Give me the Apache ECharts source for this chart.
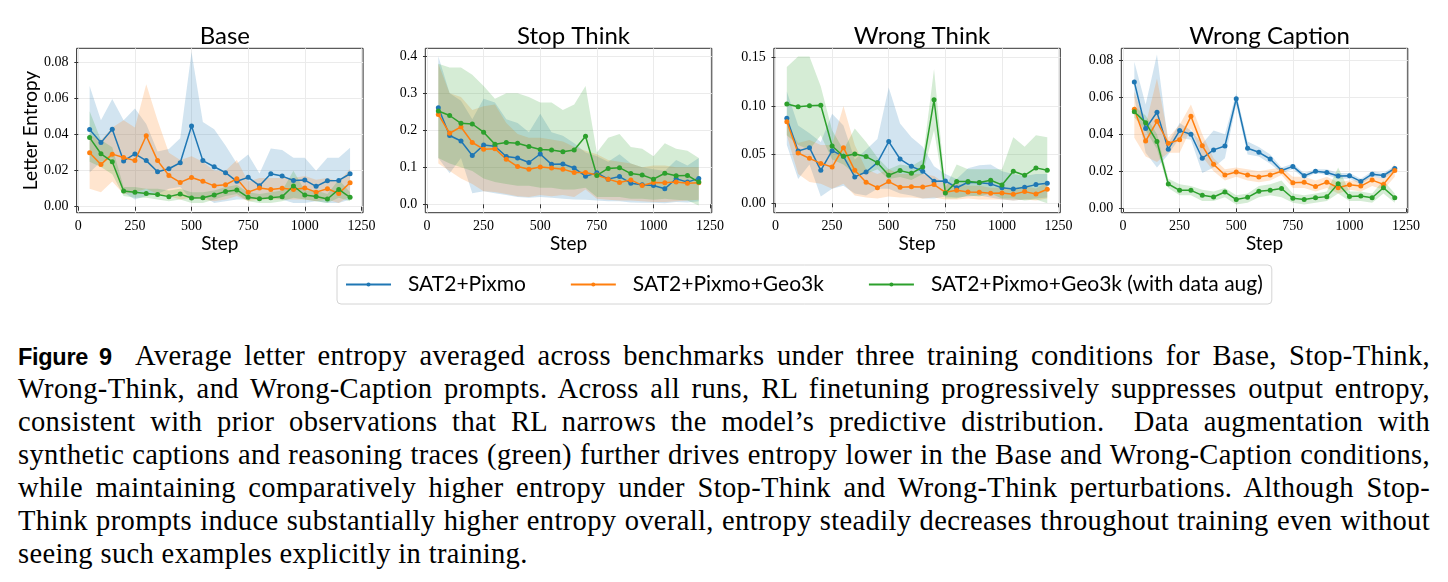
<!DOCTYPE html>
<html><head><meta charset="utf-8">
<script src="https://cdn.jsdelivr.net/npm/echarts@6/dist/echarts.min.js"></script>
<style>
html,body{margin:0;padding:0;background:#fff;width:1448px;height:582px;overflow:hidden}
#chart{position:absolute;left:0;top:0;width:1448px;height:330px}
#cap{position:absolute;left:18px;top:339px;width:1412px;font-family:"Liberation Serif",serif;font-size:28.5px;letter-spacing:0.36px;color:#000}
#cap div{height:33px;line-height:33px;text-align:justify;text-align-last:justify;white-space:nowrap}
#cap div.last{text-align-last:left}
#cap b{font-family:"Liberation Sans",sans-serif;font-weight:bold;font-size:23.5px;letter-spacing:-0.3px}
</style></head>
<body>
<div id="chart"></div>
<div id="cap">
<div><b>Figure 9</b>&nbsp; Average letter entropy averaged across benchmarks under three training conditions for Base, Stop-Think,</div>
<div>Wrong-Think, and Wrong-Caption prompts. Across all runs, RL finetuning progressively suppresses output entropy,</div>
<div>consistent with prior observations that RL narrows the model’s predictive distribution. &nbsp;Data augmentation with</div>
<div>synthetic captions and reasoning traces (green) further drives entropy lower in the Base and Wrong-Caption conditions,</div>
<div>while maintaining comparatively higher entropy under Stop-Think and Wrong-Think perturbations. Although Stop-</div>
<div>Think prompts induce substantially higher entropy overall, entropy steadily decreases throughout training even without</div>
<div class="last">seeing such examples explicitly in training.</div>
</div>
<script>
// ---------------- data ----------------
const steps = [50,100,150,200,250,300,350,400,450,500,550,600,650,700,750,800,850,900,950,1000,1050,1100,1150,1200];
const panelTitles = ['Base','Stop Think','Wrong Think','Wrong Caption'];
const seriesNames = ['SAT2+Pixmo','SAT2+Pixmo+Geo3k','SAT2+Pixmo+Geo3k (with data aug)'];
const xTickValues = [0,250,500,750,1000,1250];
const yTicksBase = [0,0.02,0.04,0.06,0.08];
const yTicksStop = [0,0.1,0.2,0.3,0.4];
const yTicksWrongThink = [0,0.05,0.10,0.15];
const yTicksWrongCaption = [0,0.02,0.04,0.06,0.08];

// Base
const baseBlue   = [0.0429,0.0356,0.0430,0.0254,0.0293,0.0256,0.0194,0.0211,0.0244,0.0448,0.0256,0.0222,0.0189,0.0141,0.0163,0.0117,0.0183,0.0170,0.0146,0.0148,0.0113,0.0144,0.0146,0.0183];
const baseBlueLo = [0.019,0.025,0.027,0.008,0.004,0.006,0.007,0.010,0.011,0.004,0.006,0.002,0.003,0.004,0.004,0.005,0.005,0.004,0.002,0.002,0.003,0.002,0.002,0.004];
const baseBlueHi = [0.067,0.048,0.0598,0.048,0.0546,0.046,0.0306,0.032,0.038,0.086,0.047,0.043,0.034,0.024,0.029,0.0185,0.0324,0.0315,0.0272,0.0272,0.020,0.0272,0.0272,0.0328];
const baseOrange   = [0.0300,0.0235,0.0292,0.0273,0.0256,0.0394,0.0256,0.0173,0.0135,0.0162,0.0141,0.0116,0.0122,0.0155,0.0081,0.0104,0.0096,0.0102,0.0096,0.0104,0.0081,0.0100,0.0074,0.0133];
const baseOrangeLo = [0.010,0.008,0.014,0.007,0.008,0.010,0.007,0.006,0.004,0.005,0.004,0.003,0.004,0.006,0.003,0.004,0.004,0.004,0.004,0.004,0.003,0.004,0.002,0.006];
const baseOrangeHi = [0.040,0.037,0.044,0.048,0.044,0.068,0.048,0.030,0.026,0.028,0.025,0.020,0.020,0.026,0.014,0.016,0.016,0.016,0.016,0.017,0.015,0.016,0.014,0.021];
const baseGreen   = [0.0384,0.0294,0.0250,0.0087,0.0080,0.0073,0.0068,0.0056,0.0070,0.0048,0.0050,0.0065,0.0085,0.0093,0.0052,0.0044,0.0050,0.0056,0.0115,0.0065,0.0057,0.0043,0.0096,0.0052];
const baseGreenLo = [0.025,0.022,0.018,0.006,0.005,0.005,0.004,0.003,0.004,0.002,0.002,0.004,0.006,0.007,0.003,0.002,0.002,0.003,0.005,0.004,0.003,0.002,0.005,0.003];
const baseGreenHi = [0.053,0.037,0.033,0.011,0.011,0.010,0.010,0.009,0.010,0.008,0.008,0.009,0.011,0.012,0.008,0.007,0.008,0.009,0.020,0.009,0.009,0.007,0.015,0.008];

// Stop Think
const stopBlue   = [0.261,0.186,0.171,0.132,0.160,0.157,0.129,0.125,0.113,0.136,0.108,0.109,0.098,0.076,0.085,0.068,0.075,0.057,0.053,0.051,0.042,0.069,0.060,0.070];
const stopBlueLo = [0.125,0.084,0.125,0.030,0.035,0.030,0.025,0.020,0.018,0.020,0.018,0.015,0.013,0.012,0.010,0.008,0.008,0.005,0.004,0.004,0.003,0.006,0.005,0.008];
const stopBlueHi = [0.400,0.300,0.280,0.230,0.285,0.275,0.230,0.220,0.195,0.245,0.195,0.185,0.165,0.140,0.130,0.115,0.135,0.110,0.100,0.095,0.090,0.120,0.105,0.125];
const stopOrange   = [0.243,0.192,0.209,0.167,0.149,0.150,0.122,0.102,0.095,0.101,0.098,0.095,0.086,0.086,0.079,0.068,0.059,0.066,0.051,0.059,0.058,0.060,0.057,0.058];
const stopOrangeLo = [0.110,0.090,0.070,0.055,0.035,0.033,0.028,0.022,0.020,0.025,0.022,0.025,0.020,0.040,0.015,0.012,0.010,0.010,0.008,0.006,0.006,0.008,0.010,0.012];
const stopOrangeHi = [0.380,0.300,0.290,0.255,0.265,0.270,0.220,0.190,0.180,0.180,0.175,0.170,0.155,0.145,0.135,0.120,0.115,0.110,0.100,0.105,0.105,0.100,0.100,0.100];
const stopGreen   = [0.252,0.240,0.219,0.217,0.195,0.162,0.167,0.165,0.156,0.148,0.147,0.142,0.147,0.184,0.078,0.097,0.099,0.083,0.079,0.068,0.084,0.077,0.078,0.060];
const stopGreenLo = [0.125,0.110,0.100,0.090,0.070,0.060,0.055,0.050,0.050,0.045,0.045,0.040,0.040,0.045,0.020,0.020,0.020,0.015,0.015,0.012,0.015,0.012,0.010,-0.003];
const stopGreenHi = [0.380,0.370,0.370,0.350,0.320,0.285,0.300,0.300,0.290,0.275,0.275,0.255,0.270,0.320,0.140,0.180,0.190,0.155,0.150,0.130,0.165,0.150,0.145,0.125];

// Wrong Think
const wtBlue   = [0.0873,0.0538,0.0572,0.0339,0.0541,0.0483,0.0271,0.0322,0.0418,0.0634,0.0455,0.0380,0.0329,0.0226,0.0230,0.0160,0.0216,0.0210,0.0200,0.0160,0.0148,0.0165,0.0192,0.0206];
const wtBlueLo = [0.060,0.025,0.040,0.007,0.015,0.018,0.010,0.008,0.015,0.015,0.010,0.008,0.005,0.005,0.007,0.006,0.007,0.008,0.006,0.004,0.003,0.004,0.005,0.006];
const wtBlueHi = [0.115,0.080,0.072,0.063,0.092,0.080,0.045,0.055,0.066,0.119,0.082,0.068,0.058,0.038,0.030,0.025,0.036,0.039,0.040,0.033,0.030,0.028,0.030,0.030];
const wtOrange   = [0.0839,0.0517,0.0462,0.0410,0.0373,0.0572,0.0339,0.0216,0.0161,0.0223,0.0164,0.0171,0.0168,0.0192,0.0113,0.0134,0.0117,0.0113,0.0103,0.0106,0.0093,0.0120,0.0096,0.0144];
const wtOrangeLo = [0.070,0.030,0.022,0.020,0.015,0.020,0.008,0.006,0.005,0.007,0.006,0.006,0.005,0.006,0.004,0.004,0.005,0.004,0.004,0.004,0.003,0.004,0.003,0.005];
const wtOrangeHi = [0.080,0.062,0.065,0.060,0.060,0.100,0.060,0.035,0.030,0.035,0.030,0.030,0.030,0.028,0.020,0.020,0.018,0.018,0.016,0.016,0.015,0.018,0.015,0.022];
const wtGreen   = [0.1020,0.0993,0.1003,0.1007,0.0589,0.0483,0.0507,0.0480,0.0418,0.0288,0.0336,0.0308,0.0373,0.1064,0.0106,0.0223,0.0223,0.0213,0.0237,0.0189,0.0330,0.0288,0.0364,0.0340];
const wtGreenLo = [0.070,0.060,0.055,0.070,0.045,0.040,0.030,0.030,0.035,0.025,0.027,0.024,0.030,0.075,0.005,0.005,0.008,0.007,0.010,0.005,0.005,0.003,0.004,0.000];
const wtGreenHi = [0.140,0.151,0.151,0.120,0.075,0.055,0.077,0.063,0.047,0.035,0.040,0.038,0.045,0.138,0.016,0.040,0.035,0.035,0.035,0.035,0.068,0.058,0.070,0.068];

// Wrong Caption
const wcBlue   = [0.0681,0.0430,0.0518,0.0318,0.0419,0.0399,0.0270,0.0315,0.0336,0.0591,0.0324,0.0302,0.0266,0.0204,0.0226,0.0175,0.0200,0.0193,0.0174,0.0175,0.0145,0.0184,0.0177,0.0215];
const wcBlueLo = [0.060,0.030,0.022,0.029,0.038,0.037,0.019,0.022,0.027,0.056,0.029,0.028,0.024,0.019,0.021,0.016,0.019,0.018,0.016,0.016,0.013,0.017,0.016,0.020];
const wcBlueHi = [0.079,0.056,0.083,0.035,0.046,0.042,0.035,0.042,0.040,0.062,0.036,0.033,0.029,0.022,0.024,0.019,0.021,0.021,0.019,0.019,0.016,0.020,0.019,0.023];
const wcOrange   = [0.0534,0.0363,0.0469,0.0351,0.0370,0.0496,0.0338,0.0237,0.0180,0.0196,0.0180,0.0169,0.0180,0.0200,0.0138,0.0140,0.0118,0.0141,0.0111,0.0127,0.0120,0.0152,0.0129,0.0204];
const wcOrangeLo = [0.038,0.028,0.025,0.030,0.030,0.043,0.028,0.020,0.015,0.017,0.015,0.014,0.015,0.018,0.011,0.011,0.009,0.011,0.008,0.010,0.009,0.012,0.010,0.017];
const wcOrangeHi = [0.063,0.045,0.070,0.038,0.045,0.056,0.040,0.027,0.021,0.022,0.021,0.020,0.021,0.022,0.017,0.017,0.015,0.017,0.014,0.015,0.015,0.017,0.016,0.024];
const wcGreen   = [0.0521,0.0462,0.0360,0.0131,0.0097,0.0097,0.0070,0.0061,0.0088,0.0047,0.0059,0.0092,0.0097,0.0107,0.0054,0.0047,0.0057,0.0063,0.0132,0.0064,0.0066,0.0057,0.0111,0.0057];
const wcGreenLo = [0.049,0.042,0.032,0.011,0.007,0.007,0.004,0.004,0.006,0.002,0.003,0.006,0.007,0.006,0.003,0.002,0.003,0.004,0.008,0.004,0.004,0.003,0.008,0.003];
const wcGreenHi = [0.055,0.050,0.040,0.016,0.013,0.012,0.010,0.009,0.011,0.007,0.008,0.012,0.013,0.015,0.008,0.007,0.008,0.009,0.022,0.009,0.009,0.008,0.015,0.008];

// ---------------- layout / style ----------------
const colors = ['#1f77b4','#ff7f0e','#2ca02c'];
const gridLefts = [76.6, 425.3, 773.8, 1121.3];
const gridWidth = 286.5;
const gridTop = 48.3, gridHeight = 164.4;
const xRange = [-7.5, 1257.5];
const yRanges = [[-0.00333,0.0880],[-0.0227,0.4216],[-0.00966,0.1593],[-0.00237,0.0863]];
const yDecimals = [2,1,2,2];

const panels = [
  {ticks: yTicksBase, lines:[[baseBlue,baseBlueLo,baseBlueHi],[baseOrange,baseOrangeLo,baseOrangeHi],[baseGreen,baseGreenLo,baseGreenHi]]},
  {ticks: yTicksStop, lines:[[stopBlue,stopBlueLo,stopBlueHi],[stopOrange,stopOrangeLo,stopOrangeHi],[stopGreen,stopGreenLo,stopGreenHi]]},
  {ticks: yTicksWrongThink, lines:[[wtBlue,wtBlueLo,wtBlueHi],[wtOrange,wtOrangeLo,wtOrangeHi],[wtGreen,wtGreenLo,wtGreenHi]]},
  {ticks: yTicksWrongCaption, lines:[[wcBlue,wcBlueLo,wcBlueHi],[wcOrange,wcOrangeLo,wcOrangeHi],[wcGreen,wcGreenLo,wcGreenHi]]}
];

const sansFont = 'Lato';
const serifFont = '"Liberation Serif", serif';

const grids = [], xAxes = [], yAxes = [], titles = [], series = [];
panels.forEach((p, i) => {
  grids.push({left: gridLefts[i], top: gridTop, width: gridWidth, height: gridHeight,
    show: true, borderColor: '#333', borderWidth: 1, backgroundColor: 'transparent', containLabel: false});
  titles.push({text: panelTitles[i], left: gridLefts[i] + gridWidth/2, top: 19, textAlign: 'center',
    textStyle: {fontFamily: sansFont, fontSize: 24, fontWeight: 'normal', color: '#000'}});
  xAxes.push({type: 'value', gridIndex: i, min: xRange[0], max: xRange[1],
    name: 'Step', nameLocation: 'middle', nameGap: 21,
    nameTextStyle: {fontFamily: sansFont, fontSize: 19, color: '#000'},
    axisLine: {show: false},
    axisTick: {show: true, length: 4, lineStyle: {color: '#333'}, customValues: xTickValues},
    axisLabel: {customValues: xTickValues, fontFamily: serifFont, fontSize: 14, color: '#000', margin: 7,
      formatter: v => String(Math.round(v))},
    splitLine: {show: true, lineStyle: {color: '#ebebeb', width: 1}}
  });
  yAxes.push({type: 'value', gridIndex: i, min: yRanges[i][0], max: yRanges[i][1],
    name: i === 0 ? 'Letter Entropy' : '', nameLocation: 'middle', nameGap: 36,
    nameTextStyle: {fontFamily: sansFont, fontSize: 19, color: '#000'},
    axisLine: {show: false},
    axisTick: {show: true, length: 4, lineStyle: {color: '#333'}, customValues: p.ticks},
    axisLabel: {customValues: p.ticks, fontFamily: serifFont, fontSize: 14, color: '#000', margin: 8,
      formatter: v => v.toFixed(yDecimals[i])},
    splitLine: {show: true, lineStyle: {color: '#ebebeb', width: 1}}
  });
  // shaded bands (drawn as one polygon each, through the axis scales)
  p.lines.forEach((trip, c) => {
    const lo = trip[1], hi = trip[2];
    series.push({type: 'custom', xAxisIndex: i, yAxisIndex: i, silent: true, z: 1, clip: true,
      data: steps.map((s, k) => [s, lo[k], hi[k]]),
      encode: {x: 0, y: [1, 2]},
      renderItem: (params, api) => {
        if (params.dataIndex !== 0) return null;
        const pts = [];
        for (let k = 0; k < steps.length; k++) pts.push(api.coord([steps[k], hi[k]]));
        for (let k = steps.length - 1; k >= 0; k--) pts.push(api.coord([steps[k], lo[k]]));
        return {type: 'polygon', shape: {points: pts}, style: {fill: colors[c], opacity: 0.2}};
      }
    });
  });
  p.lines.forEach((trip, c) => {
    series.push({type: 'line', name: seriesNames[c], xAxisIndex: i, yAxisIndex: i,
      data: steps.map((s, k) => [s, trip[0][k]]), symbol: 'circle', symbolSize: 5, showSymbol: true,
      itemStyle: {color: colors[c]}, lineStyle: {color: colors[c], width: 1.5}, z: 3, animation: false});
  });
});

const chart = echarts.init(document.getElementById('chart'), null, {renderer: 'canvas'});
chart.setOption({
  animation: false,
  backgroundColor: '#fff',
  title: titles,
  grid: grids,
  xAxis: xAxes,
  yAxis: yAxes,
  legend: {data: seriesNames, left: 337, top: 265, orient: 'horizontal',
    itemWidth: 45, itemHeight: 5, itemGap: 44, padding: [9, 9, 9, 8],
    borderColor: '#d4d4d4', borderWidth: 1, borderRadius: 4, backgroundColor: '#fff',
    textStyle: {fontFamily: sansFont, fontSize: 21, color: '#000', padding: [0, 0, 0, 12]}},
  series: series
});
</script>
</body></html>
